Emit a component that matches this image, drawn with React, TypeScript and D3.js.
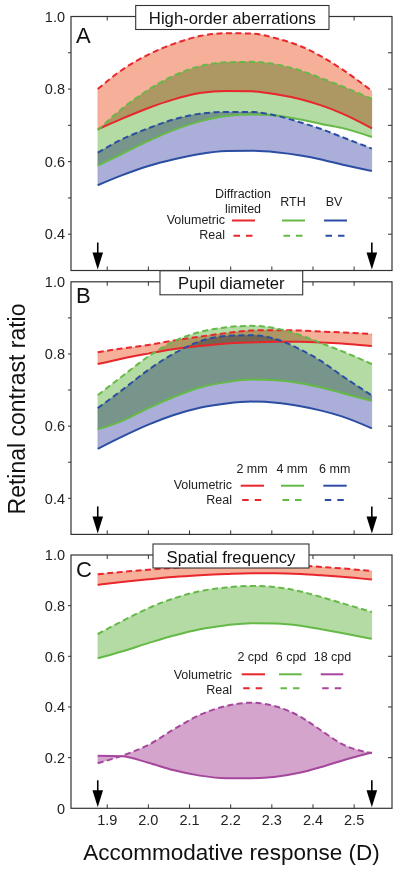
import React from 'react';
import * as d3 from 'd3';

// ---------- DATA ----------
const accom = [1.877, 1.935, 2.0, 2.06, 2.125, 2.19, 2.25, 2.31, 2.37, 2.42, 2.47, 2.543];
const xTicks = [1.9, 2.0, 2.1, 2.2, 2.3, 2.4, 2.5];
const arrowAt = [1.877, 2.543];

// Panel A – high-order aberrations
const aDiffVol = [0.689, 0.718, 0.748, 0.771, 0.789, 0.795, 0.794, 0.786, 0.772, 0.755, 0.733, 0.692];
const aDiffReal = [0.800, 0.852, 0.895, 0.924, 0.946, 0.954, 0.953, 0.940, 0.918, 0.890, 0.855, 0.795];
const aRthVol = [0.589, 0.621, 0.657, 0.687, 0.711, 0.726, 0.730, 0.727, 0.716, 0.704, 0.693, 0.668];
const aRthReal = [0.687, 0.745, 0.798, 0.836, 0.863, 0.874, 0.875, 0.868, 0.851, 0.830, 0.808, 0.773];
const aBvVol = [0.535, 0.562, 0.588, 0.606, 0.621, 0.629, 0.630, 0.626, 0.617, 0.606, 0.592, 0.574];
const aBvReal = [0.625, 0.661, 0.692, 0.716, 0.732, 0.737, 0.737, 0.727, 0.708, 0.690, 0.668, 0.636];

// Panel B – pupil diameter
const b2Vol = [0.772, 0.787, 0.801, 0.813, 0.822, 0.829, 0.832, 0.834, 0.834, 0.832, 0.829, 0.822];
const b2Real = [0.805, 0.815, 0.825, 0.837, 0.848, 0.858, 0.865, 0.866, 0.865, 0.862, 0.860, 0.855];
const b4Vol = [0.591, 0.614, 0.650, 0.680, 0.707, 0.722, 0.729, 0.727, 0.719, 0.707, 0.692, 0.670];
const b4Real = [0.686, 0.737, 0.793, 0.834, 0.861, 0.874, 0.878, 0.871, 0.852, 0.830, 0.808, 0.772];
const b6Vol = [0.537, 0.570, 0.604, 0.630, 0.651, 0.663, 0.668, 0.665, 0.655, 0.643, 0.627, 0.594];
const b6Real = [0.650, 0.699, 0.756, 0.800, 0.835, 0.850, 0.852, 0.841, 0.812, 0.780, 0.740, 0.685];

// Panel C – spatial frequency
const c2Vol = [0.882, 0.893, 0.904, 0.913, 0.920, 0.925, 0.928, 0.928, 0.925, 0.920, 0.914, 0.903];
const c2Real = [0.924, 0.933, 0.942, 0.949, 0.956, 0.961, 0.963, 0.962, 0.958, 0.953, 0.947, 0.937];
const c6Vol = [0.592, 0.619, 0.652, 0.681, 0.707, 0.723, 0.731, 0.730, 0.721, 0.707, 0.692, 0.669];
const c6Real = [0.688, 0.738, 0.790, 0.828, 0.857, 0.872, 0.878, 0.873, 0.856, 0.834, 0.810, 0.775];
const c18Vol = [0.207, 0.205, 0.180, 0.151, 0.129, 0.119, 0.119, 0.125, 0.141, 0.163, 0.188, 0.220];
const c18Real = [0.178, 0.207, 0.250, 0.310, 0.369, 0.404, 0.417, 0.402, 0.361, 0.307, 0.254, 0.217];

const aLabels = ['Diffraction\nlimited', 'RTH', 'BV'];
const bLabels = ['2 mm', '4 mm', '6 mm'];
const cLabels = ['2 cpd', '6 cpd', '18 cpd'];

const ytABmajor = [0.4, 0.6, 0.8, 1.0];
const ytABall = [0.4, 0.5, 0.6, 0.7, 0.8, 0.9];
const ytCmajor = [0, 0.2, 0.4, 0.6, 0.8, 1.0];
const ytCall = [0.2, 0.4, 0.6, 0.8];

// ---------- STYLE ----------
const RED = '#e8262b';
const GREEN = '#65b947';
const BLUE = '#2b4ea2';
const MAG = '#a6479e';
const RED_F = '#f6b09a';
const GREEN_F = '#b3dba3';
const BLUE_F = '#aaaed8';
const MAG_F = '#d4a4cc';

const FONT = '"Liberation Sans", Arial, Helvetica, sans-serif';
const W = 400, H = 874;
const L = 71, R = 392;

const x = d3.scaleLinear().domain([1.812, 2.592]).range([L, R]);

type Series = { vol: number[]; real: number[]; color: string; fill: string };
type Panel = {
  letter: string; title: string; top: number; bottom: number; domain: [number, number];
  major: number[]; all: number[]; series: Series[]; box: [number, number];
  legendLabels: string[];
  lg: { hx: number[]; hy: number; lx: [number, number][]; labelX: number; volY: number; realY: number; lineVolY: number; lineRealY: number };
  letterY: number; arrowLen: number; xLabels: boolean;
};

const panels: Panel[] = [
  {
    letter: 'A', title: 'High-order aberrations', top: 16.5, bottom: 270.5, domain: [0.3, 1.0],
    major: ytABmajor, all: ytABall, box: [135.7, 329], legendLabels: aLabels,
    series: [
      { vol: aDiffVol, real: aDiffReal, color: RED, fill: RED_F },
      { vol: aRthVol, real: aRthReal, color: GREEN, fill: GREEN_F },
      { vol: aBvVol, real: aBvReal, color: BLUE, fill: BLUE_F },
    ],
    lg: { hx: [243, 293, 334], hy: 205.7, lx: [[232, 255], [282, 305], [324, 347]], labelX: 225, volY: 224.3, realY: 239.3, lineVolY: 220.5, lineRealY: 235.7 },
    letterY: 42.5, arrowLen: 27, xLabels: false,
  },
  {
    letter: 'B', title: 'Pupil diameter', top: 281.8, bottom: 534.4, domain: [0.3, 1.0],
    major: ytABmajor, all: ytABall, box: [160, 302.7], legendLabels: bLabels,
    series: [
      { vol: b2Vol, real: b2Real, color: RED, fill: RED_F },
      { vol: b4Vol, real: b4Real, color: GREEN, fill: GREEN_F },
      { vol: b6Vol, real: b6Real, color: BLUE, fill: BLUE_F },
    ],
    lg: { hx: [252, 292, 334.7], hy: 473.3, lx: [[240.7, 264], [281, 304], [323.3, 346.7]], labelX: 232, volY: 489, realY: 504, lineVolY: 485.7, lineRealY: 500 },
    letterY: 303, arrowLen: 27, xLabels: false,
  },
  {
    letter: 'C', title: 'Spatial frequency', top: 555, bottom: 808.3, domain: [0, 1.0],
    major: ytCmajor, all: ytCall, box: [153, 309], legendLabels: cLabels,
    series: [
      { vol: c2Vol, real: c2Real, color: RED, fill: RED_F },
      { vol: c6Vol, real: c6Real, color: GREEN, fill: GREEN_F },
      { vol: c18Vol, real: c18Real, color: MAG, fill: MAG_F },
    ],
    lg: { hx: [252.7, 291, 332.5], hy: 660.7, lx: [[241.7, 265], [279, 301.7], [320.7, 343.3]], labelX: 232, volY: 679, realY: 693.5, lineVolY: 674.3, lineRealY: 688.3 },
    letterY: 576.7, arrowLen: 27, xLabels: true,
  },
];

function PanelView({ p }: { p: Panel }) {
  const y = d3.scaleLinear().domain(p.domain).range([p.bottom, p.top]);
  const line = (vals: number[]) =>
    d3.line<number>().x((_, i) => x(accom[i])).y((v) => y(v)).curve(d3.curveMonotoneX)(vals) || '';
  const area = (lo: number[], hi: number[]) =>
    d3.area<number>()
      .x((_, i) => x(accom[i]))
      .y0((_, i) => y(lo[i]))
      .y1((_, i) => y(hi[i]))
      .curve(d3.curveMonotoneX)(accom) || '';
  const tk = 4;
  const lg = p.lg;
  return (
    <g>
      {/* fills */}
      <g style={{ mixBlendMode: 'multiply' }}>
        {p.series.map((s, i) => (
          <path key={'f' + i} d={area(s.vol, s.real)} fill={s.fill} style={{ mixBlendMode: 'multiply' }}
            stroke={s.color} strokeOpacity={0.25} strokeWidth={0.6} />
        ))}
      </g>
      {/* lines */}
      {p.series.map((s, i) => (
        <g key={'l' + i}>
          <path d={line(s.vol)} fill="none" stroke={s.color} strokeWidth={2} />
          <path d={line(s.real)} fill="none" stroke={s.color} strokeWidth={2} strokeDasharray="6 3.5" />
        </g>
      ))}
      {/* frame */}
      <rect x={L} y={p.top} width={R - L} height={p.bottom - p.top} fill="none" stroke="#333" strokeWidth={1.2} />
      {/* y ticks */}
      {p.all.map((t) => (
        <g key={'yt' + t}>
          <line x1={L - 3} x2={L} y1={y(t)} y2={y(t)} stroke="#333" strokeWidth={1} />
          <line x1={R - tk} x2={R} y1={y(t)} y2={y(t)} stroke="#333" strokeWidth={1} />
        </g>
      ))}
      {p.major.map((t) => (
        <text key={'yl' + t} x={65} y={y(t)} dy="0.36em" textAnchor="end" fontSize={14.5} fontFamily={FONT} fill="#222">
          {t === 0 ? '0' : t.toFixed(1)}
        </text>
      ))}
      {/* x ticks */}
      {xTicks.map((t) => (
        <g key={'xt' + t}>
          <line x1={x(t)} x2={x(t)} y1={p.bottom} y2={p.bottom - tk} stroke="#333" strokeWidth={1} />
          <line x1={x(t)} x2={x(t)} y1={p.top} y2={p.top + tk} stroke="#333" strokeWidth={1} />
          {p.xLabels && (
            <text x={x(t)} y={p.bottom + 17} textAnchor="middle" fontSize={14.5} fontFamily={FONT} fill="#222">
              {t.toFixed(1)}
            </text>
          )}
        </g>
      ))}
      {/* arrows */}
      {arrowAt.map((a) => {
        const ax = x(a);
        const b = p.bottom - 1;
        const headH = 17;
        return (
          <g key={'ar' + a}>
            <line x1={ax} x2={ax} y1={b - p.arrowLen} y2={b - headH + 2} stroke="#000" strokeWidth={1.6} />
            <path d={`M${ax - 5.3},${b - headH} L${ax + 5.3},${b - headH} L${ax},${b} Z`} fill="#000" />
          </g>
        );
      })}
      {/* title box */}
      <rect x={p.box[0]} y={p.top - 11} width={p.box[1] - p.box[0]} height={24} fill="#fff" stroke="#333" strokeWidth={1.1} />
      <text x={(p.box[0] + p.box[1]) / 2} y={p.top + 7.5} textAnchor="middle" fontSize={16.7} fontFamily={FONT} fill="#111">
        {p.title}
      </text>
      {/* panel letter */}
      <text x={76} y={p.letterY} fontSize={22} fontFamily={FONT} fill="#111">{p.letter}</text>
      {/* legend */}
      {p.legendLabels.map((lab, i) => {
        const parts = lab.split('\n');
        return (
          <text key={'lh' + i} x={lg.hx[i]} textAnchor="middle" fontSize={12.5} fontFamily={FONT} fill="#222">
            {parts.length === 1 ? (
              <tspan x={lg.hx[i]} y={lg.hy}>{lab}</tspan>
            ) : (
              parts.map((pt, j) => (
                <tspan key={j} x={lg.hx[i]} y={lg.hy - 7.5 + j * 15}>{pt}</tspan>
              ))
            )}
          </text>
        );
      })}
      <text x={lg.labelX} y={lg.volY} textAnchor="end" fontSize={12.5} fontFamily={FONT} fill="#222">Volumetric</text>
      <text x={lg.labelX} y={lg.realY} textAnchor="end" fontSize={12.5} fontFamily={FONT} fill="#222">Real</text>
      {p.series.map((s, i) => (
        <g key={'lgl' + i}>
          <line x1={lg.lx[i][0]} x2={lg.lx[i][1]} y1={lg.lineVolY} y2={lg.lineVolY} stroke={s.color} strokeWidth={2} />
          <line x1={lg.lx[i][0] + 1.5} x2={lg.lx[i][1]} y1={lg.lineRealY} y2={lg.lineRealY} stroke={s.color} strokeWidth={2} strokeDasharray="6.5 6" />
        </g>
      ))}
    </g>
  );
}

export default function App() {
  return (
    <svg width={W} height={H} viewBox={`0 0 ${W} ${H}`}
      style={{ position: 'absolute', left: 0, top: 0, background: '#fff' }}>
      <rect x={0} y={0} width={W} height={H} fill="#fff" />
      {panels.map((p) => <PanelView key={p.letter} p={p} />)}
      <text transform="translate(24.5,409) rotate(-90)" textAnchor="middle" fontSize={23} fontFamily={FONT} fill="#111">
        Retinal contrast ratio
      </text>
      <text x={231.5} y={860} textAnchor="middle" fontSize={22.5} fontFamily={FONT} fill="#111">
        Accommodative response (D)
      </text>
    </svg>
  );
}
